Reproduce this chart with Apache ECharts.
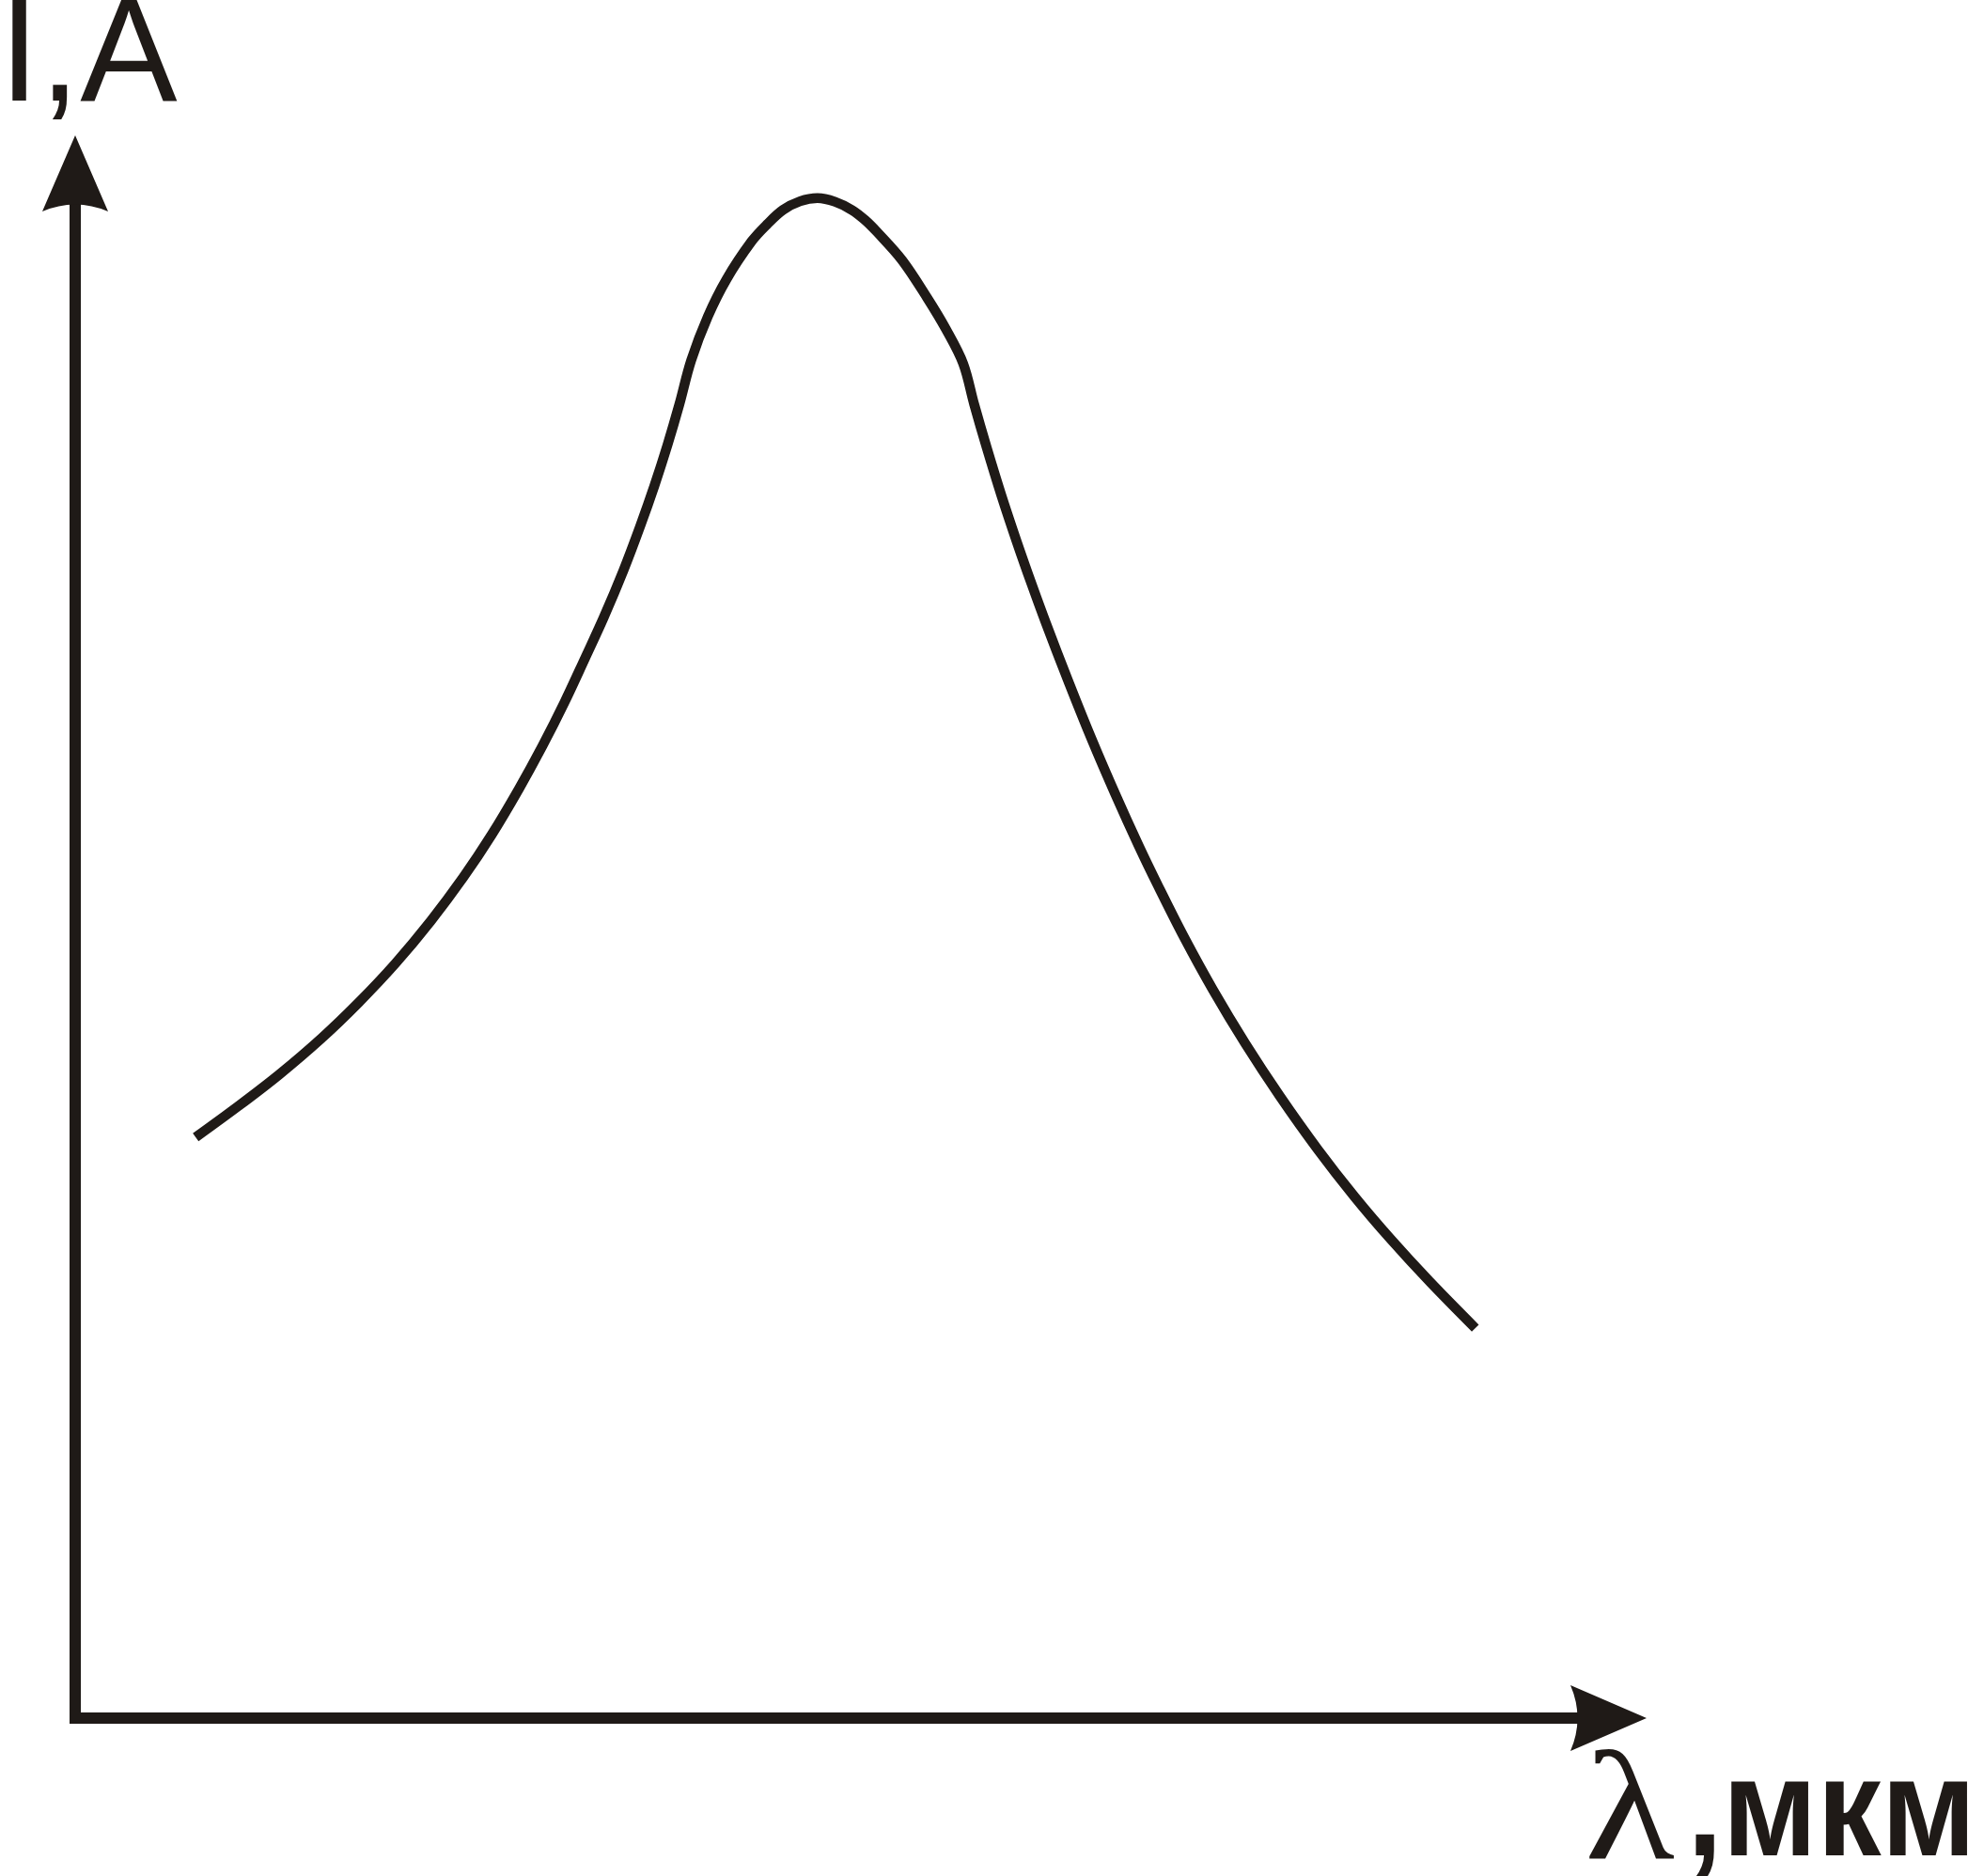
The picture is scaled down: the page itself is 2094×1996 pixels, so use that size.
<!DOCTYPE html>
<html>
<head>
<meta charset="utf-8">
<script src="https://cdn.jsdelivr.net/npm/echarts@6/dist/echarts.min.js"></script>
<style>
html,body{margin:0;padding:0;background:#fff;}
#chart{width:2094px;height:1996px;}
</style>
</head>
<body>
<div id="chart"></div>
<script>
// Wavelength (arbitrary units: 0 at origin, 100 at arrow tip)
const lambdaValues = [7.67, 10.40, 12.98, 15.65, 18.04, 20.38, 22.63, 24.71, 26.50, 28.22, 29.75, 31.16, 32.46, 33.65, 34.90, 35.96, 36.87, 37.70, 38.46, 39.21, 40.27, 41.47, 43.06, 44.05, 45.05, 46.14, 47.25, 48.36, 49.44, 50.27, 51.04, 52.63, 54.23, 55.42, 56.52, 57.22, 58.03, 58.95, 59.94, 60.92, 61.80, 63.27, 64.74, 66.21, 67.70, 68.95, 70.57, 72.43, 74.47, 76.70, 79.11, 81.44, 83.73, 86.21, 89.12];
// Intensity (arbitrary units: 0 at origin, 100 at arrow tip)
const intensityValues = [36.70, 38.68, 40.66, 42.93, 45.21, 47.68, 50.36, 53.13, 55.80, 58.67, 61.44, 64.21, 66.98, 69.56, 72.52, 75.30, 77.87, 80.44, 83.02, 85.79, 88.56, 90.93, 93.31, 94.39, 95.29, 95.84, 96.04, 95.81, 95.29, 94.66, 93.90, 92.12, 89.74, 87.77, 85.59, 83.02, 80.24, 77.27, 74.31, 71.54, 69.16, 65.38, 61.76, 58.37, 55.11, 52.54, 49.36, 46.00, 42.64, 39.27, 35.91, 32.94, 30.27, 27.59, 24.64];
const yAxisTitle = 'I,A';
const xAxisSymbol = 'λ';
const xAxisUnit = ',мкм';

const ink = '#1f1a17';
const arrowPath = 'path://M0,0 L35,81 Q0,66 -35,81 Z';

const chart = echarts.init(document.getElementById('chart'), null, {renderer: 'canvas'});
const data = lambdaValues.map((x, i) => [x, intensityValues[i]]);

chart.setOption({
  animation: false,
  backgroundColor: '#ffffff',
  grid: {left: 80, right: 382.5, top: 184.5, bottom: 168, containLabel: false},
  xAxis: {
    type: 'value', min: 0, max: 97.6,
    axisLine: {show: true, onZero: false, symbol: ['none', arrowPath], symbolSize: [70, 81],
      lineStyle: {color: ink, width: 12, cap: 'square'}},
    axisTick: {show: false}, axisLabel: {show: false}, splitLine: {show: false}
  },
  yAxis: {
    type: 'value', min: 0, max: 97.6,
    axisLine: {show: true, onZero: false, symbol: ['none', arrowPath], symbolSize: [70, 81],
      lineStyle: {color: ink, width: 12, cap: 'square'}},
    axisTick: {show: false}, axisLabel: {show: false}, splitLine: {show: false}
  },
  series: [{
    type: 'line',
    data: data,
    smooth: 0.35,
    showSymbol: false,
    lineStyle: {color: ink, width: 10.5, cap: 'butt', join: 'round'},
    z: 3
  }],
  graphic: [
    {type: 'text', x: -1, y: 64, style: {text: yAxisTitle, x: 0, y: 0, fontFamily: 'Liberation Sans', fontSize: 155, fill: ink, verticalAlign: 'middle', align: 'left'}},
    {type: 'text', x: 1686, y: 1934, scaleX: 1.2, style: {text: xAxisSymbol, x: 0, y: 0, fontFamily: 'Liberation Serif', fontSize: 165, fill: ink, verticalAlign: 'middle', align: 'left'}},
    {type: 'text', x: 1795, y: 1933, scaleX: 0.92, style: {text: xAxisUnit, x: 0, y: 0, fontFamily: 'Liberation Sans', fontWeight: 'bold', fontSize: 148, fill: ink, verticalAlign: 'middle', align: 'left'}}
  ]
});
</script>
</body>
</html>
